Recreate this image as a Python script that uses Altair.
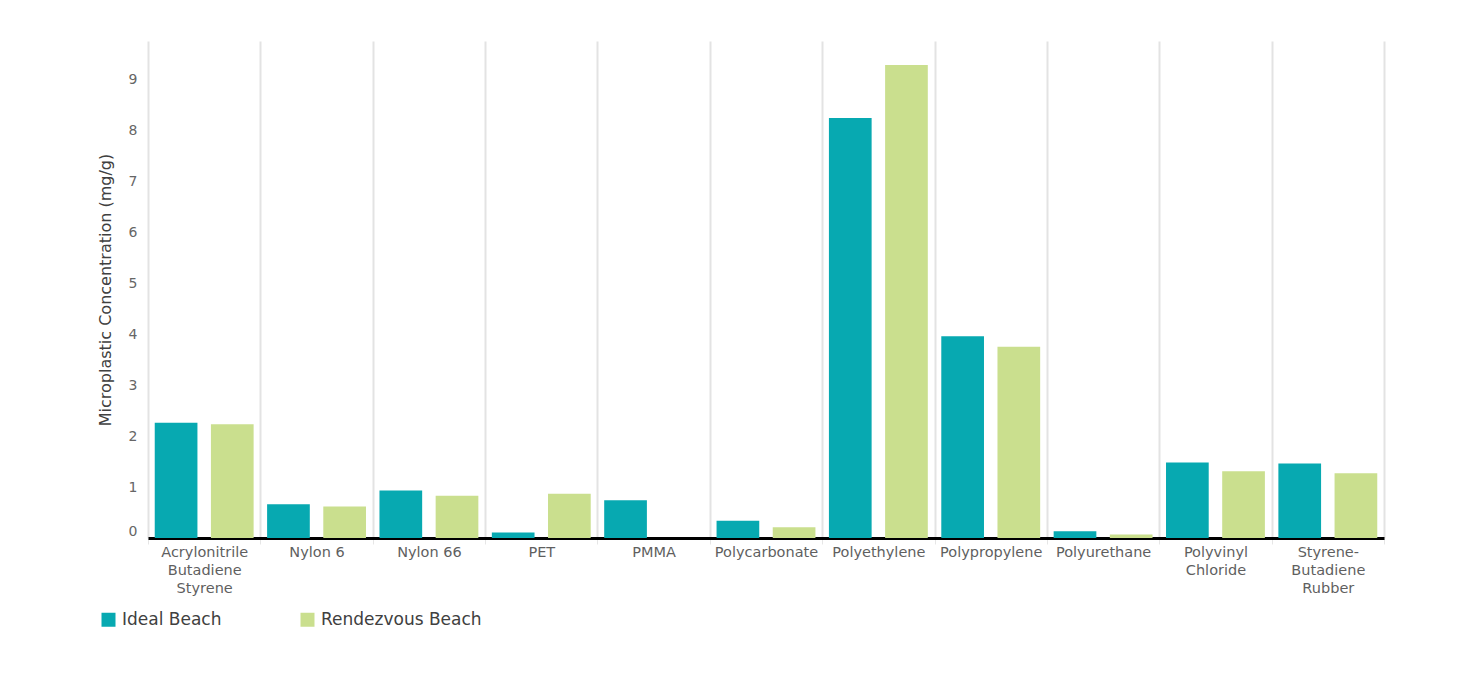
import altair as alt
import pandas as pd

# Polymer types found in the beach sediment samples
polymers = [
    "Acrylonitrile Butadiene Styrene",
    "Nylon 6",
    "Nylon 66",
    "PET",
    "PMMA",
    "Polycarbonate",
    "Polyethylene",
    "Polypropylene",
    "Polyurethane",
    "Polyvinyl Chloride",
    "Styrene-Butadiene Rubber",
]

beaches = ["Ideal Beach", "Rendezvous Beach"]

# Concentrations in mg/g
ideal_beach = [2.26, 0.66, 0.93, 0.11, 0.74, 0.34, 8.24, 3.96, 0.13, 1.48, 1.46]
rendezvous_beach = [2.23, 0.62, 0.83, 0.87, 0.0, 0.21, 9.28, 3.75, 0.07, 1.31, 1.27]

colors = ["#07a9b1", "#cadf8e"]

rows = []
for name, a, b in zip(polymers, ideal_beach, rendezvous_beach):
    rows.append({"polymer": name, "beach": beaches[0], "value": a})
    rows.append({"polymer": name, "beach": beaches[1], "value": b})
df = pd.DataFrame(rows)

FONT = "DejaVu Sans"

# Long category names are broken over several lines
wrap_expr = (
    "length(datum.label) > 12 ? "
    "split(replace(datum.label, '-', '- '), ' ') : datum.label"
)

chart = (
    alt.Chart(df)
    .mark_bar()
    .encode(
        x=alt.X(
            "polymer:N",
            sort=polymers,
            scale=alt.Scale(paddingInner=0, paddingOuter=0),
            axis=alt.Axis(
                title=None,
                labelAngle=0,
                labelExpr=wrap_expr,
                labelFont=FONT,
                labelFontSize=14.5,
                labelColor="#5f5f5f",
                labelLineHeight=18,
                labelPadding=1,
                labelLimit=200,
                tickBand="extent",
                ticks=True,
                tickColor="#e6e6e6",
                tickSize=6,
                tickWidth=1,
                domainColor="#000000",
                domainWidth=3,
                grid=True,
                gridColor="#e3e3e3",
                gridWidth=2,
            ),
        ),
        xOffset=alt.XOffset(
            "beach:N",
            sort=beaches,
            scale=alt.Scale(paddingInner=0.24, paddingOuter=0.12),
        ),
        y=alt.Y(
            "value:Q",
            scale=alt.Scale(domain=[0, 9.75], nice=False, zero=True),
            axis=alt.Axis(
                title="Microplastic Concentration (mg/g)",
                titleFont=FONT,
                titleFontSize=16,
                titleFontWeight="normal",
                titleColor="#404040",
                titlePadding=15,
                values=list(range(0, 10)),
                labelFont=FONT,
                labelFontSize=14,
                labelColor="#666666",
                labelPadding=11,
                labelBaseline={
                    "condition": {"test": "datum.value === 0", "value": "bottom"},
                    "value": "middle",
                },
                ticks=False,
                domain=False,
                grid=False,
            ),
        ),
        color=alt.Color(
            "beach:N",
            sort=beaches,
            scale=alt.Scale(domain=beaches, range=colors),
            legend=alt.Legend(
                title=None,
                orient="none",
                legendX=-48,
                legendY=570,
                direction="horizontal",
                columns=2,
                gridAlign="all",
                columnPadding=16,
                symbolType="square",
                symbolSize=196,
                symbolStrokeWidth=0,
                symbolOffset=0,
                labelFont=FONT,
                labelFontSize=17,
                labelColor="#404040",
                labelOffset=5,
                labelLimit=300,
            ),
        ),
    )
    .properties(
        width=1236,
        height=497,
        background="white",
        autosize=alt.AutoSizeParams(type="none"),
        padding={"left": 148, "top": 41, "right": 88, "bottom": 142},
    )
    .configure_view(strokeWidth=0, stroke="transparent")
)

chart.save("out.html", embed_options={"renderer": "svg", "actions": False})
